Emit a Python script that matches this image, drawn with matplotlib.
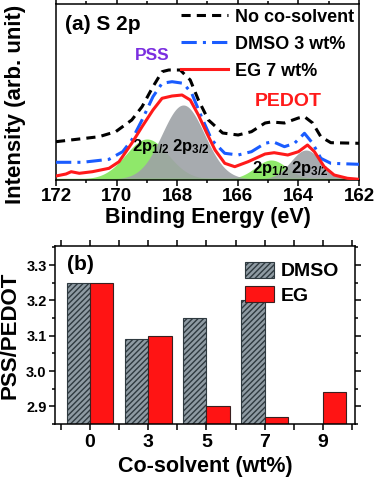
import numpy as np
import matplotlib
matplotlib.use("Agg")
import matplotlib.pyplot as plt

plt.rcParams['font.family'] = ['Liberation Sans', 'DejaVu Sans']
plt.rcParams['font.weight'] = 'bold'
plt.rcParams['axes.labelweight'] = 'bold'
plt.rcParams['mathtext.fontset'] = 'custom'
plt.rcParams['mathtext.rm'] = 'Liberation Sans:bold'
plt.rcParams['mathtext.default'] = 'regular'
plt.rcParams['hatch.linewidth'] = 1.0

# ---------------- data: panel (a) ----------------
be_none = [172.0, 170.58, 170.03, 169.5, 169.16, 168.8, 168.5, 168.28, 167.9, 167.57, 167.3,
           166.97, 166.5, 165.99, 165.55, 165.1, 164.9, 164.46, 164.0, 163.8, 163.53, 163.26,
           162.93, 162.0]
int_none = [38.3, 43.3, 48.3, 60.0, 73.3, 93.3, 108.3, 110.0, 110.0, 100.0, 80.0,
            60.0, 47.0, 45.0, 48.3, 57.0, 58.0, 57.0, 62.0, 63.3, 57.0, 43.3,
            37.3, 36.7]

be_dmso = [172.0, 171.13, 170.25, 169.8, 169.5, 169.16, 168.8, 168.5, 168.17, 167.8, 167.52,
           167.2, 166.86, 166.43, 165.99, 165.55, 165.1, 164.84, 164.46, 164.13, 163.8, 163.53,
           163.26, 162.93, 162.0]
int_dmso = [17.7, 17.7, 20.7, 28.3, 40.0, 60.0, 83.3, 96.7, 98.3, 96.7, 86.7,
            63.3, 40.0, 26.7, 25.0, 28.3, 36.7, 38.3, 33.3, 36.7, 46.7, 36.7,
            21.7, 16.7, 15.7]

be_eg = [172.0, 171.67, 171.5, 171.23, 170.8, 170.25, 169.92, 169.5, 169.16, 168.8, 168.5,
         168.17, 167.84, 167.57, 167.3, 167.02, 166.75, 166.43, 166.1, 165.66, 165.1, 164.8,
         164.35, 164.0, 163.7, 163.47, 163.15, 162.82, 162.38, 162.0]
int_eg = [4.0, 6.0, 8.3, 6.7, 8.3, 11.7, 18.3, 36.7, 53.3, 70.0, 81.7,
          84.0, 85.0, 80.0, 65.0, 46.7, 30.0, 16.7, 13.3, 18.3, 26.0, 27.3,
          25.0, 28.3, 35.0, 28.3, 13.3, 5.0, 1.7, 0.7]

# fitted components: (centre eV, height, width eV)
pss_12 = (169.0, 40.0, 0.70)
pss_32 = (167.8, 74.0, 0.70)
pedot_12 = (164.9, 19.0, 0.52)
pedot_32 = (163.75, 29.0, 0.50)
baseline = 1.0

legend_a = ["No co-solvent", "DMSO 3 wt%", "EG 7 wt%"]

# ---------------- data: panel (b) ----------------
cosolvent = ["0", "3", "5", "7", "9"]
ratio_dmso = [3.25, 3.09, 3.15, 3.20, np.nan]
ratio_eg = [3.25, 3.10, 2.90, 2.87, 2.94]

W, H = 376, 482
fig = plt.figure(figsize=(W / 100, H / 100), dpi=100)

# ---------------- panel (a) ----------------
ax = fig.add_axes([56 / W, (H - 180) / H, (359 - 56) / W, 176 / H])
xs = np.linspace(162, 172, 600)

def gauss(p):
    c, h, w = p
    return baseline + h * np.exp(-(xs - c) ** 2 / (2 * w ** 2))

green = '#8fe86a'
grey = '#9ea2a6'
ax.fill_between(xs, baseline, gauss(pss_12), color=green, lw=0, zorder=1)
ax.fill_between(xs, baseline, gauss(pss_32), color=grey, lw=0, alpha=0.9, zorder=2)
ax.fill_between(xs, baseline, gauss(pedot_12), color=green, lw=0, zorder=1)
ax.fill_between(xs, baseline, gauss(pedot_32), color=grey, lw=0, alpha=0.9, zorder=2)
ax.axhline(baseline, color='#7fd860', lw=1.0, zorder=2)

ax.plot(be_none, int_none, color='black', ls=(0, (3, 2)), lw=2.2, label=legend_a[0], zorder=4)
ax.plot(be_dmso, int_dmso, color='#1a5cff', ls=(0, (5, 2, 1, 2)), lw=2.2, label=legend_a[1], zorder=4)
ax.plot(be_eg, int_eg, color='#ff1a1a', ls='-', lw=2.2, label=legend_a[2], zorder=5)

ax.set_xlim(172, 162)
ax.set_ylim(0, 176)
ax.set_xticks([172, 170, 168, 166, 164, 162])
ax.set_xticks(np.arange(162, 173, 1), minor=True)
ax.set_yticks([])
ax.tick_params(axis='x', which='both', direction='out', top=True, labelsize=13.5, width=1.1, pad=2)
ax.tick_params(axis='x', which='major', length=4)
ax.tick_params(axis='x', which='minor', length=2.5)
for s in ax.spines.values():
    s.set_linewidth(1.1)
ax.set_xlabel("Binding Energy (eV)", fontsize=15.5, labelpad=1)
ax.set_ylabel("Intensity (arb. unit)", fontsize=16)
ax.yaxis.set_label_coords(-0.1, 0.43)

ax.text(0.03, 0.94, "(a) S 2p", transform=ax.transAxes, fontsize=15, va='top', ha='left')
leg = ax.legend(loc='upper right', bbox_to_anchor=(1.02, 1.035), frameon=False, fontsize=13,
                handlelength=2.6, handletextpad=0.4, labelspacing=0.55, borderaxespad=0.2)
ax.text(168.84, 117, "PSS", color='#7b2fe0', fontsize=12.5, ha='center', va='bottom')
ax.text(164.34, 70, "PEDOT", color='#ff1a1a', fontsize=14, ha='center', va='bottom')
ax.text(168.87, 33, "2p$_{1/2}$", fontsize=12, ha='center', va='center')
ax.text(167.56, 33, "2p$_{3/2}$", fontsize=12, ha='center', va='center')
ax.text(164.9, 12, "2p$_{1/2}$", fontsize=12, ha='center', va='center')
ax.text(163.64, 12, "2p$_{3/2}$", fontsize=12, ha='center', va='center')

# ---------------- panel (b) ----------------
bx = fig.add_axes([55 / W, (H - 424) / H, 300 / W, 178 / H])
pos = np.arange(len(cosolvent))
bw = 0.4
bx.bar(pos - bw / 2, ratio_dmso, width=bw, bottom=0, color='#8f9ba3', edgecolor='#2f3a40',
       hatch='//////', lw=0.8, label='DMSO', zorder=2)
bx.bar(pos + bw / 2, ratio_eg, width=bw, color='#ff1414', edgecolor='#3a2020',
       lw=0.8, label='EG', zorder=2)
bx.set_ylim(2.852, 3.354)
bx.set_xlim(-0.6, 4.55)
bx.set_xticks(pos)
bx.set_xticklabels(cosolvent)
bx.set_xticks(np.arange(-0.5, 4.6, 0.5), minor=True)
bx.set_yticks([2.9, 3.0, 3.1, 3.2, 3.3])
bx.set_yticks(np.arange(2.85, 3.36, 0.05), minor=True)
bx.tick_params(axis='x', which='both', direction='out', top=True, labelsize=14, width=1.1, pad=3)
bx.tick_params(axis='x', which='major', length=4)
bx.tick_params(axis='x', which='minor', length=4)
bx.tick_params(axis='y', which='both', direction='out', right=True, labelsize=10.5, width=1.1, pad=2)
bx.tick_params(axis='y', which='major', length=4)
bx.tick_params(axis='y', which='minor', length=2.5)
for s in bx.spines.values():
    s.set_linewidth(1.1)
bx.set_ylabel("PSS/PEDOT", fontsize=16, labelpad=4)
bx.set_xlabel("Co-solvent (wt%)", fontsize=15.5, labelpad=4)
bx.text(0.04, 0.95, "(b)", transform=bx.transAxes, fontsize=15, va='top', ha='left')
bx.legend(loc='upper right', bbox_to_anchor=(1.0, 1.0), frameon=False, fontsize=14,
          handlelength=1.5, handleheight=0.9, handletextpad=0.35, labelspacing=0.3,
          borderaxespad=0.4)

fig.savefig("out.png", dpi=100)
